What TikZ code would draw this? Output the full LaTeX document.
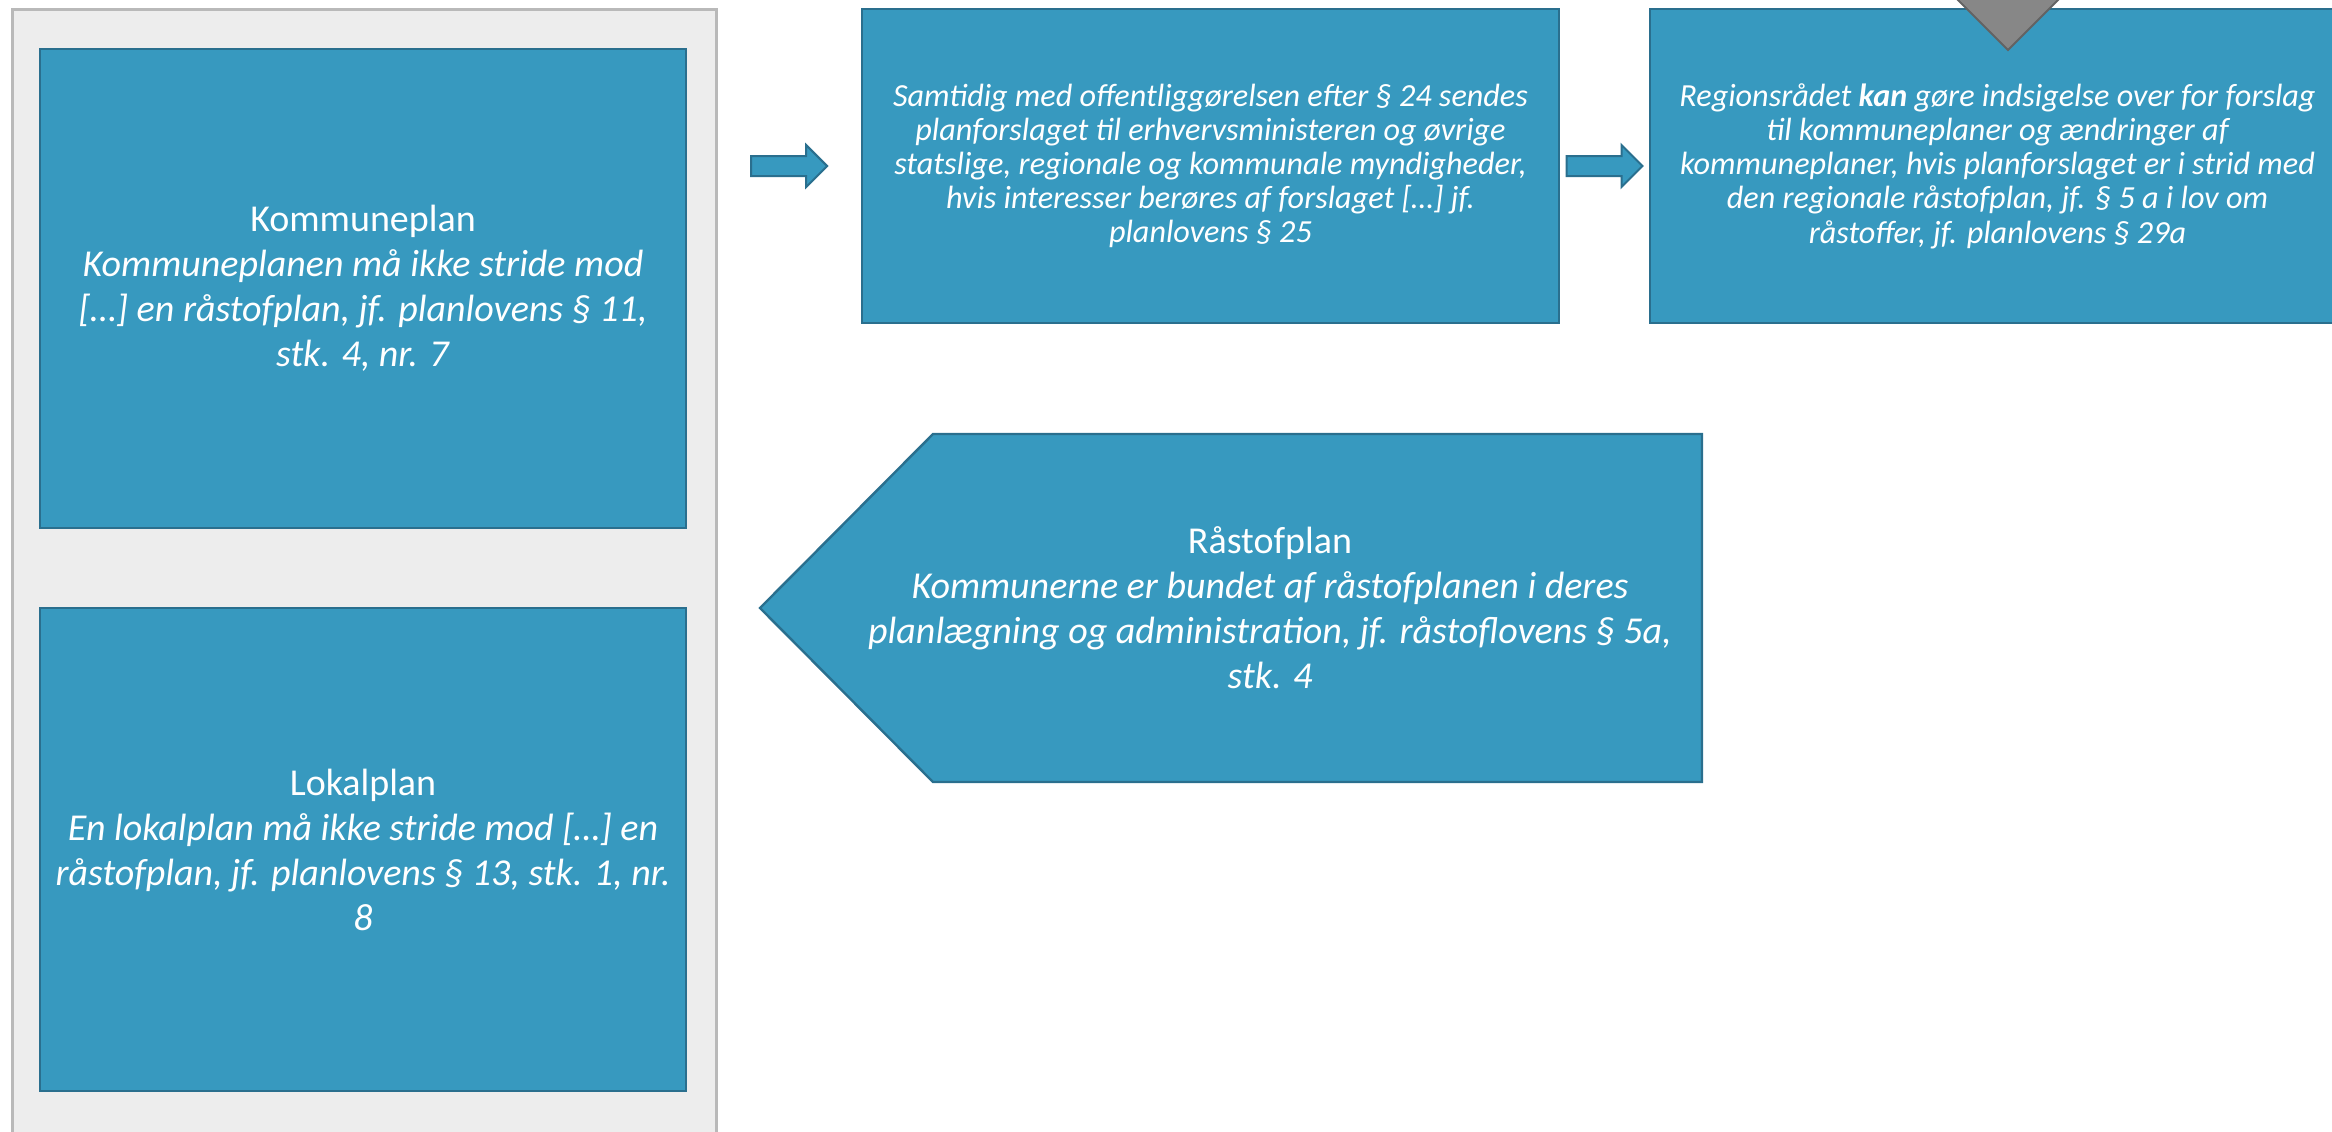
\documentclass[tikz,border=0pt]{standalone}
\usepackage{fontspec}
\setmainfont{Carlito}
\usetikzlibrary{calc}

\definecolor{boxblue}{HTML}{3799BF}
\definecolor{boxedge}{HTML}{2A6F8E}
\definecolor{framegray}{HTML}{EDEDED}
\definecolor{frameedge}{HTML}{B9B9B9}
\definecolor{tipgray}{HTML}{878787}
\definecolor{tipedge}{HTML}{636363}

\tikzset{
	planbox/.style = {draw = boxedge, fill = boxblue, line width = 1.2pt, text = white, align = center, inner sep = 0pt},
	bigtext/.style = {font = \fontsize{19}{22.5}\selectfont},
	smalltext/.style = {font = \fontsize{16.1}{17.1}\selectfont\itshape},
	blockarrow/.pic = {
		\draw[draw = boxedge, fill = boxblue, line width = 1pt] (-38,-10) -- (17,-10) -- (17,-21) -- (38,0) -- (17,21) -- (17,10) -- (-38,10) -- cycle;
	}
}

\begin{document}
\begin{tikzpicture}[x = 0.5pt, y = -0.5pt]
		\useasboundingbox (0,0) rectangle (2332,1131);
		\clip (0,0) rectangle (2332,1131);
		
		% left frame with the two plans
		\node[draw = frameedge, fill = framegray, line width = 1.5pt, minimum width = 352pt, minimum height = 570.5pt, inner sep = 0pt] (frame) at (364,579.5) {};
		
		\node[planbox, bigtext, minimum width = 323pt, minimum height = 239.5pt] (kommune) at (363,288.5)
			{Kommuneplan\\ \textit{Kommuneplanen må ikke stride mod}\\ \textit{[…] en råstofplan, jf. planlovens § 11,}\\ \textit{stk. 4, nr. 7}};
		\node[planbox, bigtext, minimum width = 323pt, minimum height = 241.5pt] (lokal) at (363,849.5)
			{Lokalplan\\ \textit{En lokalplan må ikke stride mod […] en}\\ \textit{råstofplan, jf. planlovens § 13, stk. 1, nr.}\\ \textit{8}};
		
		% top row
		\node[planbox, smalltext, minimum width = 348.5pt, minimum height = 157pt] (samtidig) at (1210.5,166)
			{\textit{Samtidig med offentliggørelsen efter § 24 sendes}\\ \textit{planforslaget til erhvervsministeren og øvrige}\\ \textit{statslige, regionale og kommunale myndigheder,}\\ \textit{hvis interesser berøres af forslaget […] jf.}\\ \textit{planlovens § 25}};
		\node[planbox, smalltext, minimum width = 347.5pt, minimum height = 157pt] (region) at (1997.5,166)
			{\textit{Regionsrådet \textbf{kan} gøre indsigelse over for forslag}\\ \textit{til kommuneplaner og ændringer af}\\ \textit{kommuneplaner, hvis planforslaget er i strid med}\\ \textit{den regionale råstofplan, jf. § 5 a i lov om}\\ \textit{råstoffer, jf. planlovens § 29a}};
		
		\pic at ($(frame.east |- samtidig.west)!0.5!(samtidig.west)$) {blockarrow};
		\pic at ($(samtidig.east)!0.5!(region.west)$) {blockarrow};
		
		\draw[draw = tipedge, fill = tipgray, line width = 1pt] (1946,-12) -- (2070,-12) -- (2008,50) -- cycle;
		
		% raw materials plan
		\draw[draw = boxedge, fill = boxblue, line width = 1.2pt] (760,608) -- (933,434) -- (1702,434) -- (1702,782) -- (933,782) -- cycle;
		\node[text = white, align = center, bigtext] (raastof) at (1270,608)
			{Råstofplan\\ \textit{Kommunerne er bundet af råstofplanen i deres}\\ \textit{planlægning og administration, jf. råstoflovens § 5a,}\\ \textit{stk. 4}};
	\end{tikzpicture}
\end{document}
